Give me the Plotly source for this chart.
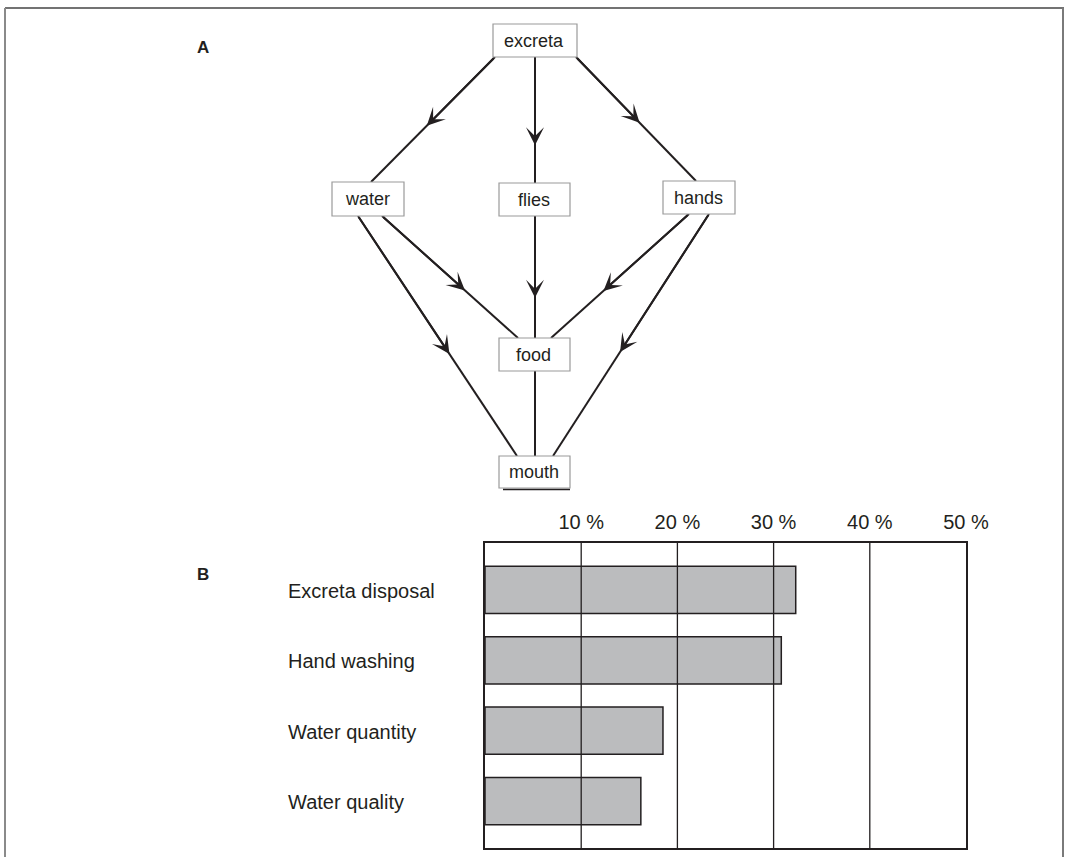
import plotly.graph_objects as go

# ---------------- data ----------------
categories = ["Excreta disposal", "Hand washing", "Water quantity", "Water quality"]
reduction_pct = [32.3, 30.8, 18.5, 16.2]
tick_values = [10, 20, 30, 40, 50]
tick_labels = ["10 %", "20 %", "30 %", "40 %", "50 %"]

node_names = ["excreta", "water", "flies", "hands", "food", "mouth"]
edge_from = ["excreta", "excreta", "excreta", "water", "water", "flies", "hands", "hands", "food"]
edge_to = ["water", "flies", "hands", "food", "mouth", "food", "food", "mouth", "mouth"]
edge_has_arrow = [True, True, True, True, True, True, True, True, False]

# ---------------- layout geometry (pixels, diagram panel) ----------------
W, H = 1065, 857
BOX = {  # x0, x1, y0, y1
    "excreta": (493, 577, 24, 57),
    "water": (332, 404, 182, 216),
    "flies": (499, 570, 183, 216),
    "hands": (663, 735, 181, 214),
    "food": (499, 570, 338, 371),
    "mouth": (499, 570, 456, 488),
}
EDGE_GEOM = [  # start x, start y, end x, end y, arrow fraction along edge
    (495, 57, 371, 182, 0.55),
    (535, 57, 535, 183, 0.70),
    (576, 57, 696, 181, 0.53),
    (382, 216, 518, 338, 0.61),
    (358, 216, 517, 456, 0.575),
    (535, 216, 535, 338, 0.67),
    (689, 214, 551, 338, 0.62),
    (709, 214, 553, 456, 0.57),
    (535, 371, 535, 456, 0.0),
]

INK = "#231f20"
SANS = "Liberation Sans, Arial, sans-serif"

fig = go.Figure()

# edges
for (s, t, arrow), (x0, y0, x1, y1, f) in zip(zip(edge_from, edge_to, edge_has_arrow), EDGE_GEOM):
    fig.add_trace(go.Scatter(x=[x0, x1], y=[y0, y1], mode="lines",
                             line=dict(color=INK, width=2), hoverinfo="skip",
                             showlegend=False, xaxis="x", yaxis="y", cliponaxis=False))
    if arrow:
        tx, ty = x0 + f * (x1 - x0), y0 + f * (y1 - y0)
        fig.add_annotation(x=tx, y=ty, ax=x0, ay=y0, xref="x", yref="y",
                           axref="x", ayref="y", text="", showarrow=True,
                           arrowhead=3, arrowsize=1.5, arrowwidth=2,
                           arrowcolor=INK, standoff=0, startstandoff=0)

shapes = []
# node boxes
for name in node_names:
    x0, x1, y0, y1 = BOX[name]
    shapes.append(dict(type="rect", xref="x", yref="y", x0=x0, x1=x1, y0=y0, y1=y1,
                       line=dict(color="#9a9a9a", width=1.2), fillcolor="white",
                       layer="above"))
    fig.add_annotation(x=(x0 + x1) / 2 - 1, y=(y0 + y1) / 2, xref="x", yref="y",
                       text=name, showarrow=False,
                       font=dict(family=SANS, size=18, color=INK))
# small dark rule under the mouth box
mx0, mx1, my0, my1 = BOX["mouth"]
shapes.append(dict(type="line", xref="x", yref="y", x0=mx0 + 4, x1=mx1, y0=my1 + 1.5,
                   y1=my1 + 1.5, line=dict(color=INK, width=1.5), layer="above"))

# frame lines
shapes.append(dict(type="line", xref="x", yref="y", x0=5, x1=1064, y0=8, y1=8,
                   line=dict(color="#444444", width=1.5)))
shapes.append(dict(type="line", xref="x", yref="y", x0=5, x1=5, y0=8, y1=H,
                   line=dict(color="#8a8a8a", width=2)))
shapes.append(dict(type="line", xref="x", yref="y", x0=1063, x1=1063, y0=8, y1=H,
                   line=dict(color="#7a7a7a", width=2)))

# panel letters
fig.add_annotation(x=203, y=47, xref="x", yref="y", text="<b>A</b>", showarrow=False,
                   font=dict(family=SANS, size=17, color=INK))
fig.add_annotation(x=203, y=574, xref="x", yref="y", text="<b>B</b>", showarrow=False,
                   font=dict(family=SANS, size=17, color=INK))

# ---------------- bar chart ----------------
fig.add_trace(go.Bar(x=reduction_pct, y=categories, orientation="h", width=0.67,
                     marker=dict(color="#bbbcbe", line=dict(color=INK, width=1.5)),
                     xaxis="x2", yaxis="y2", showlegend=False, hoverinfo="skip"))

for tv in tick_values[:-1]:
    shapes.append(dict(type="line", xref="x2", yref="y2 domain", x0=tv, x1=tv, y0=0, y1=1,
                       line=dict(color=INK, width=1.3), layer="above"))

for cat in categories:
    fig.add_annotation(x=286, y=cat, xref="x", yref="y2", text=cat, showarrow=False,
                       xanchor="left", yshift=-1,
                       font=dict(family=SANS, size=20, color=INK))

PX0, PX1, PY0, PY1 = 485, 966, 543, 848
fig.update_layout(
    template=go.layout.Template(),
    width=W, height=H, autosize=False,
    margin=dict(l=0, r=0, t=0, b=0, pad=0, autoexpand=False),
    paper_bgcolor="white", plot_bgcolor="rgba(0,0,0,0)",
    font=dict(family=SANS, color=INK),
    shapes=shapes, showlegend=False,
    xaxis=dict(domain=[0, 1], range=[0, W], visible=False, fixedrange=True,
               automargin=False),
    yaxis=dict(domain=[0, 1], range=[H, 0], visible=False, fixedrange=True,
               automargin=False),
    xaxis2=dict(domain=[PX0 / W, PX1 / W], range=[0, 50], anchor="y2", side="top",
                tickvals=tick_values, ticktext=tick_labels, ticks="",
                ticklabelstandoff=4, showgrid=False, zeroline=False, automargin=False,
                showline=True, mirror=True, linecolor=INK, linewidth=1.5,
                tickfont=dict(family=SANS, size=20, color=INK), fixedrange=True),
    yaxis2=dict(domain=[(H - PY1) / H, (H - PY0) / H], anchor="x2",
                type="category", categoryarray=categories, automargin=False,
                range=[3.665, -0.665], showticklabels=False, ticks="",
                showgrid=False, zeroline=False, showline=True, mirror=True,
                linecolor=INK, linewidth=1.5, fixedrange=True),
)

fig.write_html("out.html",
               config=dict(responsive=False, displayModeBar=False),
               post_script="document.body.style.margin='0px';"
                           "document.body.style.overflow='hidden';"
                           "document.documentElement.style.overflow='hidden';")
